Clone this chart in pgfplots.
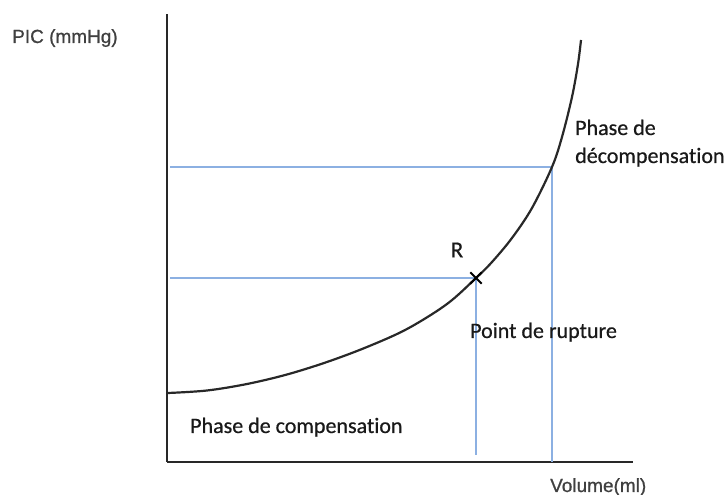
\documentclass[border=0pt]{standalone}
\usepackage{pgfplots}
\pgfplotsset{compat=1.18}
\usepackage{fontspec}
\setmainfont{Carlito}[Ligatures=NoCommon, FakeBold=0.6]
\newfontfamily\arialf{Liberation Sans}[FakeBold=0.8]
\definecolor{bl}{RGB}{140,176,226}
\definecolor{dk}{RGB}{40,40,40}
\begin{document}
\begin{tikzpicture}
\path[use as bounding box] (-167pt,-33pt) rectangle (561pt,462pt);
\begin{axis}[
  at={(0pt,0pt)}, anchor=origin,
  scale only axis, width=466pt, height=448pt,
  xmin=0, xmax=466, ymin=0, ymax=448,
  axis lines=left, axis line style={-, line width=1.8pt, color=dk},
  xtick=\empty, ytick=\empty, clip=false,
]
\addplot[bl, line width=1.1pt] coordinates {(3,184) (309,184) (309,7)};
\addplot[bl, line width=1.1pt] coordinates {(3,295) (385,295) (385,0)};
\addplot[dk, line width=2.2pt, smooth, tension=0.55] coordinates {
 (1,69) (40,71.5) (80,78) (120,87.5) (160,100) (200,115) (240,133) (280,158)
 (309,184) (325,200) (345,224) (365,254) (385,295) (395,325) (405,365) (411,398) (414,422)};
\addplot[only marks, mark=x, mark size=8pt, mark options={line width=2pt, color=black}] coordinates {(309,184)};
\node[anchor=base west, font=\arialf\fontsize{19}{22}\selectfont, text=black!75, inner sep=0] at (axis cs:-155,419) {PIC (mmHg)};
\node[anchor=base west, font=\arialf\fontsize{19}{22}\selectfont, text=black!75, inner sep=0] at (axis cs:383,-30) {Volume(ml)};
\node[anchor=base west, font=\fontsize{22}{26}\selectfont, text=black!90, inner sep=0] at (axis cs:23,29) {Phase de compensation};
\node[anchor=base west, font=\fontsize{22}{26}\selectfont, text=black!90, inner sep=0] at (axis cs:303,124) {Point de rupture};
\node[anchor=base west, font=\fontsize{22}{26}\selectfont, text=black!90, inner sep=0] at (axis cs:408,327) {Phase de};
\node[anchor=base west, font=\fontsize{22}{26}\selectfont, text=black!90, inner sep=0] at (axis cs:408,299) {décompensation};
\node[anchor=center, font=\fontsize{23}{26}\selectfont, text=black!90, inner sep=0] at (axis cs:290,212) {R};
\end{axis}
\end{tikzpicture}
\end{document}
